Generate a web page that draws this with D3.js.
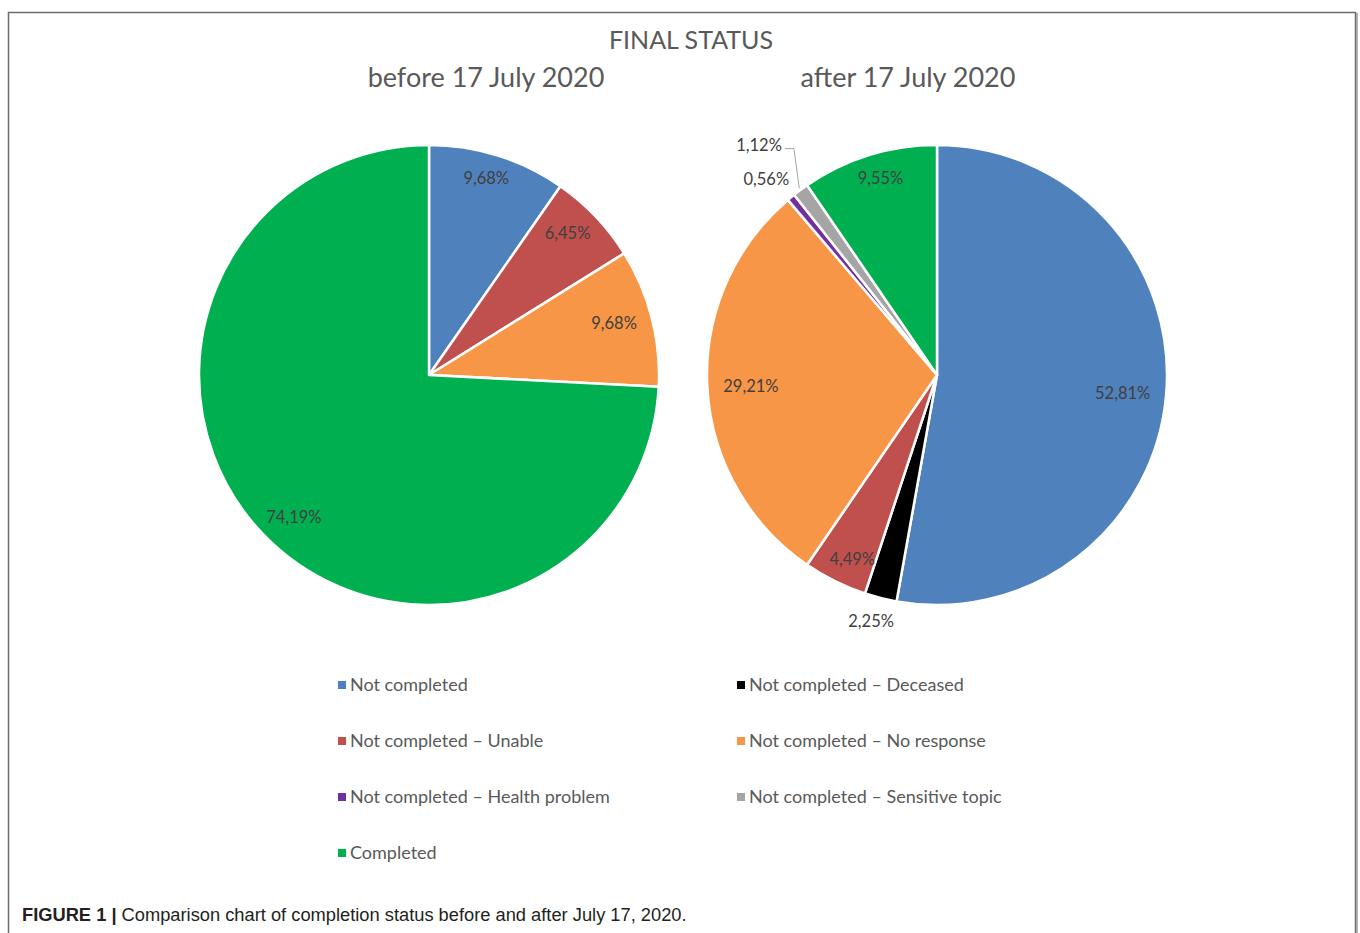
<!DOCTYPE html>
<html>
<head>
<meta charset="utf-8">
<script src="https://cdn.jsdelivr.net/npm/d3@7"></script>
<style>
  body { margin: 0; background: #fff; }
  svg { display: block; }
</style>
</head>
<body>
<svg id="chart"></svg>
<script>
let categories = [
  "Not completed",
  "Not completed – Deceased",
  "Not completed – Unable",
  "Not completed – No response",
  "Not completed – Health problem",
  "Not completed – Sensitive topic",
  "Completed",
];
let colors = ["#4f81bd", "#000000", "#c0504d", "#f79646", "#7030a0", "#a5a5a5", "#00b050"];

// slice order as drawn, clockwise from 12 o'clock
let beforeCats = ["Not completed", "Not completed – Unable", "Not completed – No response", "Completed"];
let beforeVals = [9.68, 6.45, 9.68, 74.19];

let afterCats = [
  "Not completed",
  "Not completed – Deceased",
  "Not completed – Unable",
  "Not completed – No response",
  "Not completed – Health problem",
  "Not completed – Sensitive topic",
  "Completed",
];
let afterVals = [52.81, 2.25, 4.49, 29.21, 0.56, 1.12, 9.55];

let legendOrder = [
  "Not completed", "Not completed – Deceased",
  "Not completed – Unable", "Not completed – No response",
  "Not completed – Health problem", "Not completed – Sensitive topic",
  "Completed",
];

let width = 1360;
let height = 933;
let font = "Lato, 'Open Sans', sans-serif";

let svg = d3.select("#chart").attr("width", width).attr("height", height);

let color = d3.scaleOrdinal().domain(categories).range(colors);
let fmt = (v) => d3.format(".2f")(v).replace(".", ",") + "%";

// frame
svg.append("path")
  .attr("d", `M8.5,${height} V12.5 H1355.5 V${height}`)
  .style("fill", "none")
  .style("stroke", "#6b6b6b")
  .style("stroke-width", 1.5);
svg.append("line")
  .attr("x1", 1357).attr("x2", 1357).attr("y1", 13).attr("y2", height)
  .style("stroke", "#9a9a9a").style("stroke-width", 1.5);

svg.append("text")
  .attr("x", 691).attr("y", 49)
  .attr("text-anchor", "middle")
  .style("font-family", font).style("font-size", "25px")
  .style("fill", "#595959")
  .text("FINAL STATUS");

svg.append("text")
  .attr("x", 486).attr("y", 87)
  .attr("text-anchor", "middle")
  .style("font-family", font).style("font-size", "27px")
  .style("fill", "#595959")
  .text("before 17 July 2020");

svg.append("text")
  .attr("x", 908).attr("y", 87)
  .attr("text-anchor", "middle")
  .style("font-family", font).style("font-size", "27px")
  .style("fill", "#595959")
  .text("after 17 July 2020");

let radius = 230;

function drawPie(cx, cy, cats, vals) {
  let data = cats.map((c, i) => ({ cat: c, value: vals[i] }));
  let pie = d3.pie().sort(null).value((d) => d.value);
  let arcs = pie(data);
  let arc = d3.arc().innerRadius(0).outerRadius(radius);

  let g = svg.append("g").attr("transform", `translate(${cx},${cy})`);

  g.selectAll(".slice")
    .data(arcs)
    .join("path")
    .attr("class", "slice")
    .attr("d", arc)
    .style("fill", (d) => color(d.data.cat))
    .style("stroke", "#fff")
    .style("stroke-width", 2.5)
    .style("stroke-linejoin", "round");

  // labels: inside, kept off the rim by half the label box;
  // small slices go outside, pushed out further when crowded
  let lastOutside = null;
  let h = 16;
  arcs.forEach((d) => {
    let mid = (d.startAngle + d.endAngle) / 2;
    let share = d.data.value / 100;
    let sx = Math.sin(mid);
    let sy = -Math.cos(mid);
    let label = g.append("text")
      .attr("dy", "0.35em")
      .attr("text-anchor", "middle")
      .style("font-family", font).style("font-size", "16.5px")
      .style("fill", "#404040")
      .text(fmt(d.data.value));
    let w = label.node().getComputedTextLength();

    if (share > 0.03) {
      let r = radius - 16;
      label.attr("x", sx * r - sx * w / 2).attr("y", sy * r - sy * h / 2);
      return;
    }

    let crowded = lastOutside !== null && Math.abs(mid - lastOutside) < 0.1;
    let r = crowded ? radius + 47 : radius + 16;
    let x = sx * r + sx * w / 2;
    let y = sy * r + sy * h / 2;
    label.attr("x", x).attr("y", y);

    if (crowded) {
      let lx = x + w / 2 + 3;
      let ex = sx * (radius + 2);
      let ey = sy * (radius + 2);
      g.append("path")
        .attr("d", `M${lx},${y + 3} H${lx + 9} L${ex},${ey}`)
        .style("fill", "none")
        .style("stroke", "#a6a6a6")
        .style("stroke-width", 1);
    }
    lastOutside = mid;
  });
}

drawPie(429, 375, beforeCats, beforeVals);
drawPie(937, 375, afterCats, afterVals);

// legend, two columns
let legend = svg.append("g");
legendOrder.forEach((c, i) => {
  let col = i % 2;
  let row = Math.floor(i / 2);
  let x = col === 0 ? 338 : 737;
  let y = 685 + row * 56;
  legend.append("rect")
    .attr("x", x).attr("y", y - 4)
    .attr("width", 8).attr("height", 8)
    .style("fill", color(c));
  legend.append("text")
    .attr("x", x + 12).attr("y", y)
    .attr("dy", "0.35em")
    .style("font-family", font).style("font-size", "18px")
    .style("fill", "#595959")
    .text(c);
});

let caption = svg.append("text")
  .attr("x", 22).attr("y", 921)
  .style("font-family", "'Liberation Sans', Arial, sans-serif")
  .style("font-size", "18.3px")
  .style("fill", "#231f20");
caption.append("tspan").style("font-weight", "bold").text("FIGURE 1 | ");
caption.append("tspan").text("Comparison chart of completion status before and after July 17, 2020.");
</script>
</body>
</html>
